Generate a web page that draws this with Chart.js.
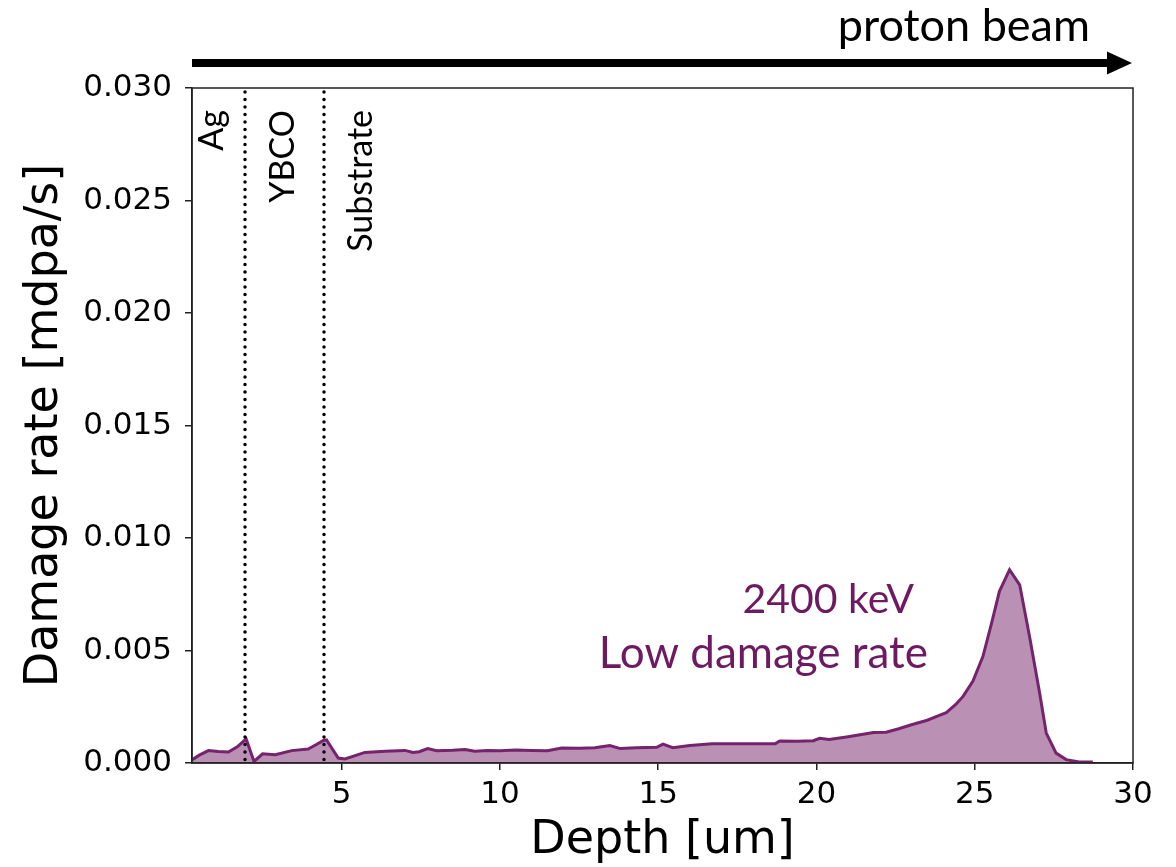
<!DOCTYPE html>
<html>
<head>
<meta charset="utf-8">
<title>Damage rate vs depth</title>
<script src="https://cdn.jsdelivr.net/npm/chart.js@4.4.1/dist/chart.umd.min.js"></script>
<style>
  html, body { margin: 0; padding: 0; background: #fff; }
  #chart { display: block; }
</style>
</head>
<body>
<canvas id="chart" width="1176" height="867"></canvas>
<script>
'use strict';
// depth [um] and damage rate [mdpa/s] for the 2400 keV beam
const depth = [
  0.28, 0.5, 0.79, 1.1, 1.42, 1.7, 1.98, 2.23, 2.5, 2.9, 3.42, 3.94, 4.2, 4.42, 4.52,
  4.89, 5.1, 5.4, 5.73, 6.37, 7.0, 7.25, 7.45, 7.72, 8.0, 8.5, 8.9, 9.2, 9.6, 10.0,
  10.5, 11.0, 11.5, 11.95, 12.5, 13.0, 13.47, 13.8, 14.3, 14.95, 15.15, 15.46, 16.0,
  16.7, 17.5, 18.2, 18.7, 18.84, 19.4, 19.9, 20.1, 20.4, 21.0, 21.8, 22.2, 22.6, 23.0,
  23.5, 23.9, 24.1, 24.4, 24.63, 24.94, 25.26, 25.52, 25.78, 26.1, 26.42, 26.73,
  27.05, 27.26, 27.57, 27.89, 28.3, 28.73
];
const damageRate = [
  0.00015, 0.00035, 0.00055, 0.00051, 0.00049, 0.00072, 0.00107, 0.00007, 0.00041,
  0.00037, 0.00055, 0.00062, 0.00082, 0.00100, 0.00103, 0.00022, 0.00018, 0.00032,
  0.00047, 0.00052, 0.00056, 0.00047, 0.00050, 0.00064, 0.00055, 0.00057, 0.00060,
  0.00052, 0.00056, 0.00055, 0.00058, 0.00056, 0.00055, 0.00067, 0.00066, 0.00068,
  0.00078, 0.00064, 0.00068, 0.00070, 0.00084, 0.00068, 0.00078, 0.00086, 0.00086,
  0.00086, 0.00086, 0.00098, 0.00097, 0.00099, 0.00110, 0.00104, 0.00117, 0.00136,
  0.00137, 0.00152, 0.00170, 0.00190, 0.00213, 0.00224, 0.00260, 0.00296, 0.00363,
  0.00474, 0.00615, 0.00763, 0.00859, 0.00792, 0.00563, 0.00311, 0.00133, 0.00044,
  0.00015, 0.00005, 0.00005
];
const xTicks = [5, 10, 15, 20, 25, 30];
const yTicks = [0, 0.005, 0.010, 0.015, 0.020, 0.025, 0.030];

// layer interfaces and the layer names written beside them
const interfaces = [1.95, 4.45];
const layerNames = ['Ag', 'YBCO', 'Substrate'];
const layerNameDepth = [1.25, 3.5, 5.96];

const lineColor = '#75236c';
const fillColor = 'rgba(117, 35, 108, 0.5)';
const labelFont = 'Lato, "Open Sans", sans-serif';

const decorations = {
  id: 'decorations',
  afterDatasetsDraw(chart) {
    const { ctx, chartArea: a, scales: { x } } = chart;
    ctx.save();

    // dotted interface lines
    ctx.strokeStyle = '#000';
    ctx.lineWidth = 3.5;
    ctx.lineCap = 'round';
    ctx.setLineDash([0.1, 7.4]);
    interfaces.forEach(d => {
      const px = Math.round(x.getPixelForValue(d));
      ctx.beginPath();
      ctx.moveTo(px, a.top + 4);
      ctx.lineTo(px, a.bottom);
      ctx.stroke();
    });
    ctx.setLineDash([]);

    // layer names, reading upwards
    ctx.fillStyle = '#000';
    ctx.font = '34px ' + labelFont;
    ctx.textAlign = 'right';
    ctx.textBaseline = 'alphabetic';
    layerNames.forEach((name, i) => {
      ctx.save();
      ctx.translate(x.getPixelForValue(layerNameDepth[i]), a.top + 22);
      ctx.rotate(-Math.PI / 2);
      ctx.fillText(name, 0, 0);
      ctx.restore();
    });

    // frame
    ctx.strokeStyle = '#222';
    ctx.lineWidth = 1.5;
    ctx.strokeRect(a.left, a.top, a.right - a.left, a.bottom - a.top);

    // beam direction arrow
    ctx.fillStyle = '#000';
    ctx.fillRect(a.left, 59, 1108 - a.left, 8);
    ctx.beginPath();
    ctx.moveTo(1107, 51.5);
    ctx.lineTo(1132, 63);
    ctx.lineTo(1107, 74.5);
    ctx.closePath();
    ctx.fill();

    ctx.font = '45px ' + labelFont;
    ctx.textAlign = 'right';
    ctx.fillText('proton beam', 1090, 41);

    // beam annotation
    ctx.fillStyle = '#6e1a63';
    ctx.font = '41px ' + labelFont;
    ctx.fillText('2400 keV', 914, 613);
    ctx.font = '44px ' + labelFont;
    ctx.fillText('Low damage rate', 928, 668);

    ctx.restore();
  }
};

const tickFont = { family: '"DejaVu Sans", sans-serif', size: 31 };
const titleFont = { family: '"DejaVu Sans", sans-serif', size: 46, lineHeight: 1 };

new Chart(document.getElementById('chart'), {
  type: 'line',
  data: {
    datasets: [{
      label: '2400 keV',
      data: depth.map((d, i) => ({ x: d, y: damageRate[i] })),
      borderColor: lineColor,
      backgroundColor: fillColor,
      borderWidth: 3,
      fill: 'origin',
      pointRadius: 0,
      tension: 0
    }]
  },
  options: {
    responsive: false,
    animation: false,
    devicePixelRatio: 1,
    layout: { padding: { top: 88, right: 43, left: 0, bottom: 0 } },
    plugins: {
      legend: { display: false },
      tooltip: { enabled: false }
    },
    scales: {
      x: {
        type: 'linear',
        min: 0.27,
        max: 30,
        afterBuildTicks: s => { s.ticks = xTicks.map(v => ({ value: v })); },
        afterFit: s => { s.height = 104; },
        grid: { display: true, drawOnChartArea: false, tickLength: 7, color: '#222', lineWidth: 1.5 },
        border: { display: true, color: '#222', width: 1.5 },
        ticks: { font: tickFont, color: '#000', padding: 6, maxRotation: 0 },
        title: { display: true, text: 'Depth [um]', font: titleFont, color: '#000', padding: { top: 0, bottom: 3 } }
      },
      y: {
        min: 0,
        max: 0.03,
        afterBuildTicks: s => { s.ticks = yTicks.map(v => ({ value: v })); },
        afterFit: s => { s.width = 192; },
        grid: { display: true, drawOnChartArea: false, tickLength: 7, color: '#222', lineWidth: 1.5 },
        border: { display: true, color: '#222', width: 1.5 },
        ticks: { font: tickFont, color: '#000', padding: 13, callback: v => v.toFixed(3) },
        title: { display: true, text: 'Damage rate [mdpa/s]', font: titleFont, color: '#000', padding: { top: 22, bottom: 0 } }
      }
    }
  },
  plugins: [decorations]
});
</script>
</body>
</html>
